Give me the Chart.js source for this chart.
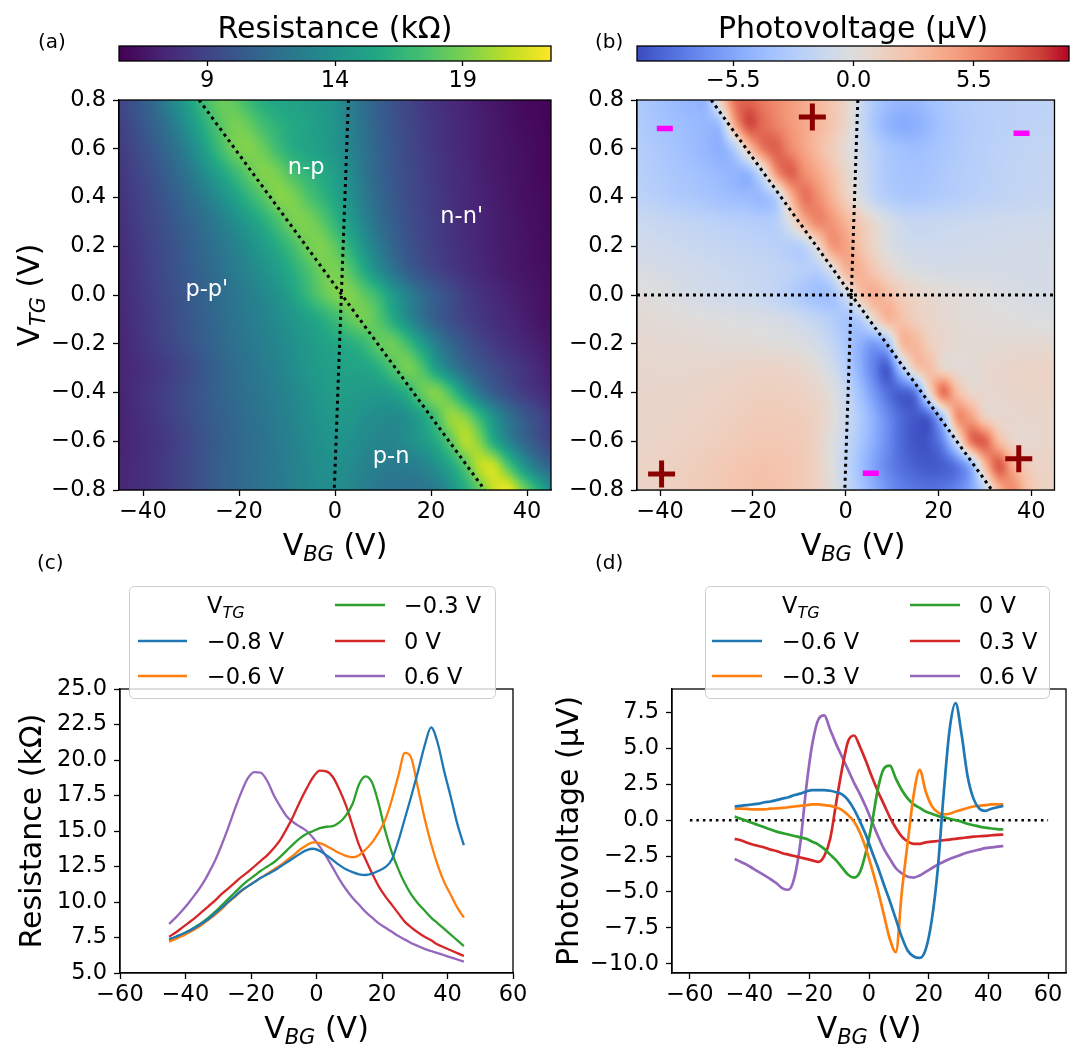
<!DOCTYPE html>
<html>
<head>
<meta charset="utf-8">
<script src="https://cdn.jsdelivr.net/npm/chart.js@4.4.0/dist/chart.umd.min.js"></script>
<style>
  html, body { margin: 0; padding: 0; background: #fff; }
  #fig { position: relative; width: 1073px; height: 1044px; }
  #fig canvas { position: absolute; left: 0; top: 0; }
</style>
</head>
<body>
<div id="fig">
  <canvas id="cbRes" width="1073" height="1044"></canvas>
  <canvas id="mapRes" width="1073" height="1044"></canvas>
  <canvas id="cbPv" width="1073" height="1044"></canvas>
  <canvas id="mapPv" width="1073" height="1044"></canvas>
  <canvas id="cutRes" width="1073" height="1044"></canvas>
  <canvas id="cutPv" width="1073" height="1044"></canvas>
</div>
<script>
// ---- gate sweep grids used by both maps ----
const vbgGrid = [-45,-42,-39,-36,-33,-30,-27,-24,-21,-18,-15,-12,-9,-6,-3,0,3,6,9,12,15,18,21,24,27,30,33,36,39,42,45];
const vtgGrid = [0.8,0.7,0.6,0.5,0.4,0.3,0.2,0.1,0,-0.1,-0.2,-0.3,-0.4,-0.5,-0.6,-0.7,-0.8];

// resistance map (kOhm), one row per top gate voltage, top row = 0.8 V
const resistanceMap = [
  [9.0,9.9,10.9,12.2,13.8,15.5,17.3,18.5,18.2,17.0,16.0,15.5,15.3,15.0,14.6,14.0,12.8,11.6,10.6,9.8,9.1,8.5,8.0,7.6,7.2,6.9,6.6,6.3,6.0,5.8,5.6],
  [8.7,9.5,10.4,11.5,12.9,14.5,16.3,17.9,18.9,18.4,17.2,16.3,15.7,15.3,14.8,14.2,13.0,11.8,10.7,9.9,9.2,8.6,8.1,7.7,7.3,7.0,6.7,6.4,6.1,5.9,5.7],
  [8.45,9.15,9.95,10.85,12.0,13.4,15.2,17.1,18.7,19.2,18.5,17.1,16.0,15.45,15.0,14.2,13.2,12.0,10.9,10.05,9.3,8.7,8.2,7.75,7.35,7.0,6.7,6.5,6.25,6.0,5.8],
  [8.2,8.8,9.5,10.3,11.3,12.4,13.8,15.3,16.8,18.2,19.2,18.9,17.6,16.6,15.8,14.9,13.6,12.2,11.0,10.1,9.4,8.8,8.3,7.8,7.5,7.1,6.8,6.5,6.3,6.0,5.8],
  [8.0,8.6,9.2,9.9,10.7,11.6,12.6,13.8,15.1,16.5,17.9,19.2,19.1,17.9,16.7,15.5,14.1,12.6,11.3,10.3,9.5,8.9,8.4,7.9,7.5,7.2,6.9,6.6,6.3,6.1,5.9],
  [7.8,8.4,9.0,9.6,10.3,11.0,11.8,12.7,13.7,14.8,16.0,17.4,18.8,19.1,18.2,16.6,14.9,13.2,11.7,10.6,9.7,9.0,8.5,8.0,7.6,7.3,7.0,6.7,6.4,6.2,5.9],
  [7.7,8.2,8.8,9.4,10.0,10.7,11.4,12.1,12.9,13.8,14.8,15.9,17.2,18.6,19.1,18.2,16.3,14.3,12.5,11.1,10.0,9.2,8.6,8.1,7.7,7.3,7.0,6.7,6.5,6.2,6.0],
  [7.6,8.1,8.7,9.3,9.9,10.5,11.1,11.8,12.5,13.2,14.0,14.9,16.0,17.3,18.6,19.0,17.9,15.9,13.8,12.1,10.7,9.7,9.0,8.4,7.9,7.5,7.1,6.8,6.5,6.3,6.1],
  [7.55,8.0,8.55,9.1,9.7,10.3,10.95,11.55,12.1,12.7,13.3,14.1,15.2,16.6,18.0,19.0,19.2,18.2,16.8,14.7,13.0,11.55,10.4,9.5,8.6,8.0,7.55,7.15,6.8,6.5,6.2],
  [7.4,7.9,8.4,9.0,9.6,10.2,10.8,11.4,12.0,12.5,13.0,13.6,14.3,15.0,15.9,16.9,18.2,18.8,17.9,15.9,13.8,12.0,10.6,9.6,8.9,8.3,7.8,7.4,7.0,6.6,6.3],
  [7.3,7.8,8.3,8.8,9.4,10.0,10.6,11.2,11.8,12.3,12.8,13.3,13.9,14.5,15.1,15.6,16.0,16.8,18.2,18.6,17.2,15.0,12.8,11.2,10.0,9.1,8.4,7.9,7.4,7.0,6.6],
  [7.3,7.6,7.95,8.4,8.9,9.5,10.2,10.9,11.5,12.0,12.5,13.0,13.65,14.35,14.8,15.1,15.3,15.4,16.1,17.6,18.85,17.7,15.0,12.9,11.3,10.2,9.4,8.7,8.1,7.5,6.9],
  [7.2,7.7,8.1,8.6,9.1,9.7,10.3,10.9,11.4,11.9,12.3,12.8,13.3,13.9,14.5,14.9,14.9,14.7,14.6,15.0,16.2,18.3,19.2,17.5,14.6,12.2,10.6,9.5,8.6,8.0,7.4],
  [7.2,7.6,8.0,8.5,9.0,9.6,10.2,10.7,11.2,11.7,12.1,12.6,13.1,13.7,14.2,14.5,14.4,14.0,13.7,13.6,14.0,15.3,17.4,19.7,19.3,16.8,14.1,12.0,10.5,9.4,8.4],
  [7.2,7.5,7.85,8.25,8.75,9.3,9.95,10.55,11.1,11.55,12.0,12.45,12.95,13.5,14.0,14.2,13.95,13.55,13.25,13.2,13.7,14.55,15.8,18.0,20.4,19.3,15.9,13.3,11.4,10.0,8.9],
  [7.3,7.6,7.95,8.35,8.85,9.4,10.0,10.6,11.1,11.6,11.95,12.35,12.85,13.3,13.8,13.9,13.6,13.1,12.8,12.5,12.6,13.0,14.0,15.5,17.8,20.6,20.9,17.8,14.6,12.3,10.9],
  [7.4,7.65,7.95,8.35,8.8,9.4,10.0,10.6,11.1,11.55,11.95,12.35,12.8,13.25,13.65,13.7,13.3,12.8,12.3,12.0,11.9,12.15,12.5,14.0,15.9,18.3,21.0,21.9,19.2,16.4,14.0]
];

// photovoltage map (uV), same grid
const photovoltageMap = [
  [-3.0,-3.5,-3.9,-4.3,-4.5,-4.2,1.5,6.5,7.2,6.4,5.6,4.8,4.0,3.2,2.2,1.0,-1.2,-3.0,-4.0,-4.4,-4.3,-3.8,-3.3,-2.9,-2.7,-2.5,-2.4,-2.3,-2.2,-2.2,-2.1],
  [-2.9,-3.3,-3.7,-4.0,-4.2,-4.4,-3.5,4.0,8.0,7.0,6.0,5.0,4.2,3.3,2.3,1.0,-1.3,-3.3,-4.6,-5.2,-5.0,-4.3,-3.6,-3.1,-2.8,-2.6,-2.4,-2.3,-2.2,-2.1,-2.0],
  [-2.7,-3.0,-3.35,-3.7,-4.1,-4.5,-4.85,-2.8,2.3,6.15,7.3,5.8,4.4,3.05,1.8,0.4,-1.1,-2.35,-3.35,-3.8,-4.0,-3.7,-3.35,-3.0,-2.7,-2.5,-2.25,-2.1,-1.95,-1.87,-1.8],
  [-2.5,-2.8,-3.1,-3.4,-3.7,-4.0,-4.3,-4.6,-4.4,-1.0,5.0,7.3,5.6,4.2,2.6,1.0,-0.8,-2.2,-3.1,-3.5,-3.6,-3.4,-3.1,-2.8,-2.6,-2.4,-2.2,-2.0,-1.9,-1.8,-1.7],
  [-2.2,-2.4,-2.7,-3.0,-3.2,-3.5,-3.8,-4.0,-4.2,-4.2,-2.5,3.0,6.5,5.5,3.6,1.6,-0.3,-1.8,-2.7,-3.1,-3.2,-3.0,-2.8,-2.6,-2.4,-2.2,-2.0,-1.85,-1.75,-1.65,-1.55],
  [-1.3,-1.48,-1.7,-1.85,-2.05,-2.2,-2.4,-2.55,-2.7,-2.85,-2.5,-0.05,3.6,5.7,5.1,3.5,2.0,0.65,-0.55,-1.35,-1.65,-1.62,-1.5,-1.42,-1.35,-1.28,-1.2,-1.15,-1.1,-1.04,-1.0],
  [-0.9,-1.0,-1.15,-1.3,-1.45,-1.6,-1.75,-1.9,-2.05,-2.2,-2.4,-2.6,-2.2,0.8,4.8,4.5,2.6,1.1,-0.1,-0.8,-1.1,-1.15,-1.1,-1.05,-1.0,-0.95,-0.9,-0.85,-0.8,-0.8,-0.75],
  [-0.4,-0.5,-0.65,-0.8,-0.95,-1.1,-1.25,-1.4,-1.55,-1.7,-1.9,-2.2,-2.6,-2.6,-0.5,3.3,3.6,2.2,1.0,0.2,-0.3,-0.5,-0.6,-0.6,-0.6,-0.6,-0.65,-0.65,-0.7,-0.7,-0.7],
  [0.25,0.05,-0.2,-0.42,-0.65,-0.85,-1.0,-1.15,-1.3,-1.6,-2.0,-2.6,-3.3,-3.9,-3.6,-1.2,2.2,3.8,2.9,1.8,1.1,0.72,0.45,0.25,0.1,-0.05,-0.25,-0.4,-0.52,-0.6,-0.65],
  [0.5,0.4,0.3,0.2,0.1,0.0,-0.1,-0.2,-0.3,-0.45,-0.65,-0.95,-1.4,-2.0,-2.7,-3.4,-2.8,0.5,3.2,2.6,1.6,1.0,0.65,0.45,0.3,0.2,0.1,0.0,-0.1,-0.2,-0.25],
  [0.65,0.6,0.55,0.55,0.5,0.45,0.4,0.35,0.3,0.25,0.15,0.0,-0.3,-0.9,-1.9,-3.2,-4.8,-6.0,-4.0,2.8,3.2,1.6,0.9,0.6,0.45,0.45,0.5,0.55,0.55,0.55,0.55],
  [0.8,0.79,0.75,0.75,0.8,0.84,0.9,0.97,1.05,1.1,1.05,0.95,0.7,0.15,-0.9,-2.6,-4.9,-7.4,-9.0,-3.2,1.8,2.8,1.0,0.45,0.45,0.65,0.85,0.97,1.05,1.1,1.1],
  [0.85,0.88,0.9,0.92,0.97,1.05,1.15,1.25,1.4,1.5,1.5,1.4,1.2,0.8,0.0,-1.6,-3.8,-6.2,-8.3,-9.0,-7.5,0.5,6.5,3.0,1.0,0.8,0.85,0.95,1.0,1.05,1.05],
  [0.9,0.95,1.0,1.05,1.15,1.25,1.4,1.55,1.75,1.85,1.85,1.75,1.6,1.2,0.3,-1.3,-3.0,-5.0,-7.0,-8.6,-9.3,-8.5,-3.0,5.0,4.5,1.5,0.8,0.8,0.85,0.9,1.0],
  [0.95,1.02,1.1,1.2,1.3,1.45,1.6,1.8,2.0,2.1,2.1,2.0,1.8,1.1,-0.1,-1.6,-3.3,-5.1,-6.9,-8.6,-9.5,-9.3,-7.0,-0.9,6.3,7.2,3.1,1.15,0.65,0.85,1.0],
  [1.1,1.2,1.3,1.45,1.6,1.8,2.0,2.2,2.4,2.5,2.4,2.2,1.9,1.2,0.0,-1.8,-3.8,-5.6,-7.2,-8.3,-9.0,-9.3,-9.0,-7.8,-4.5,3.0,7.5,4.0,1.8,1.2,1.1],
  [1.1,1.2,1.35,1.5,1.7,1.9,2.1,2.3,2.5,2.6,2.5,2.3,1.9,1.3,0.2,-1.5,-3.3,-5.0,-6.5,-7.5,-8.0,-8.2,-8.0,-7.2,-5.5,-2.0,3.5,5.5,2.8,1.5,1.2]
];

// dotted guide lines (charge neutrality) and markers, [V_BG, V_TG]
const diagLineRes = [[-28.3, 0.8], [31.2, -0.8]];
const vertLineRes = [[2.8, 0.8], [-0.15, -0.8]];
const diagLinePv = [[-29.0, 0.8], [31.5, -0.8]];
const vertLinePv = [[2.6, 0.8], [-0.2, -0.8]];
const zeroLinePv = [[-45, 0], [45, 0]];
const plusMarks = [[-7.2, 0.73], [-39.7, -0.734], [37.3, -0.672]];
const minusMarks = [[-39.0, 0.683], [37.9, 0.664], [5.4, -0.731]];
const regionNames = ['n-p', "n-n'", "p-p'", 'p-n'];
const regionVbg = [-6.0, 26.4, -26.7, 11.7];
const regionVtg = [0.52, 0.32, 0.02, -0.665];

// line cuts vs back gate
const vbgCuts = [-45,-43,-41,-39,-37,-35,-33,-31,-29,-27,-25,-23,-21,-19,-17,-15,-13,-11,-9,-7,-5,-3,-1,1,3,5,7,9,11,13,15,17,19,21,23,25,27,29,31,33,35,37,39,41,43,45];
const resCutM08 = [7.4,7.55,7.75,7.95,8.2,8.5,8.8,9.2,9.6,10.0,10.4,10.8,11.1,11.4,11.7,11.95,12.2,12.5,12.8,13.1,13.4,13.65,13.75,13.6,13.3,12.95,12.6,12.3,12.1,11.95,11.9,12.0,12.2,12.45,13.0,14.3,15.9,17.5,19.2,21.0,22.3,21.2,19.2,17.4,15.5,14.0];
const resCutM06 = [7.2,7.4,7.6,7.85,8.1,8.4,8.75,9.1,9.5,9.95,10.35,10.75,11.1,11.4,11.7,12.0,12.3,12.6,12.95,13.3,13.7,14.0,14.2,14.15,13.95,13.7,13.45,13.25,13.15,13.3,13.7,14.2,14.9,15.8,17.2,18.9,20.5,20.1,18.0,15.9,14.1,12.6,11.4,10.5,9.6,8.9];
const resCutM03 = [7.3,7.5,7.7,7.95,8.25,8.55,8.9,9.3,9.75,10.2,10.65,11.1,11.5,11.85,12.2,12.5,12.8,13.2,13.65,14.1,14.5,14.8,15.0,15.2,15.3,15.35,15.6,16.1,16.9,18.3,18.85,18.4,16.9,15.0,13.5,12.3,11.3,10.5,9.9,9.4,8.9,8.5,8.1,7.7,7.3,6.9];
const resCut0 = [7.55,7.85,8.2,8.55,8.9,9.3,9.7,10.1,10.55,10.95,11.35,11.75,12.1,12.5,12.9,13.3,13.8,14.4,15.2,16.1,17.1,18.0,18.8,19.25,19.2,18.8,17.9,16.8,15.4,14.0,13.0,12.0,11.1,10.4,9.8,9.2,8.6,8.2,7.85,7.55,7.3,7.0,6.8,6.6,6.4,6.2];
const resCutP06 = [8.45,8.9,9.4,9.95,10.55,11.2,12.0,12.9,14.0,15.2,16.5,17.7,18.7,19.15,19.1,18.5,17.5,16.7,16.0,15.6,15.3,15.0,14.5,13.9,13.2,12.4,11.6,10.9,10.3,9.8,9.3,8.9,8.5,8.2,7.9,7.6,7.35,7.1,6.9,6.7,6.55,6.4,6.25,6.1,5.95,5.8];
const pvCutM06 = [0.95,1.0,1.05,1.1,1.15,1.25,1.3,1.4,1.5,1.6,1.75,1.85,2.0,2.1,2.1,2.1,2.05,1.95,1.8,1.4,0.75,-0.1,-1.05,-2.2,-3.3,-4.5,-5.65,-6.9,-8.15,-9.1,-9.5,-9.6,-9.0,-7.0,-3.5,1.8,6.3,8.15,6.0,3.1,1.5,0.8,0.65,0.8,0.9,1.0];
const pvCutM03 = [0.8,0.8,0.78,0.75,0.75,0.75,0.8,0.82,0.85,0.9,0.95,1.0,1.05,1.1,1.1,1.05,1.0,0.9,0.7,0.35,-0.1,-0.9,-2.0,-3.4,-4.9,-6.6,-8.3,-9.2,-5.0,-1.5,1.8,3.5,2.0,1.0,0.55,0.4,0.45,0.6,0.72,0.85,0.95,1.0,1.05,1.1,1.1,1.1];
const pvCut0 = [0.25,0.1,-0.05,-0.2,-0.35,-0.5,-0.65,-0.8,-0.9,-1.0,-1.1,-1.2,-1.3,-1.5,-1.7,-2.0,-2.4,-2.8,-3.3,-3.8,-4.0,-3.6,-2.2,-0.2,2.2,3.6,3.8,2.9,2.1,1.5,1.1,0.85,0.6,0.45,0.3,0.2,0.1,0.0,-0.1,-0.25,-0.35,-0.45,-0.52,-0.58,-0.62,-0.65];
const pvCutP03 = [-1.3,-1.4,-1.55,-1.7,-1.8,-1.9,-2.05,-2.15,-2.3,-2.4,-2.5,-2.6,-2.7,-2.8,-2.9,-2.5,-1.3,1.2,3.6,5.5,5.9,5.1,4.1,3.0,2.0,1.1,0.2,-0.55,-1.15,-1.5,-1.65,-1.65,-1.55,-1.5,-1.45,-1.4,-1.35,-1.3,-1.25,-1.2,-1.15,-1.12,-1.1,-1.05,-1.02,-1.0];
const pvCutP06 = [-2.7,-2.9,-3.1,-3.35,-3.6,-3.85,-4.1,-4.4,-4.75,-4.85,-4.0,-1.6,2.3,5.3,7.0,7.3,6.3,5.3,4.4,3.5,2.6,1.8,0.9,-0.1,-1.1,-2.0,-2.7,-3.35,-3.7,-3.95,-4.0,-3.85,-3.6,-3.35,-3.1,-2.9,-2.7,-2.55,-2.4,-2.25,-2.15,-2.05,-1.95,-1.9,-1.85,-1.8];
const zeroLineCut = [[-60, 0], [60, 0]];

// tick values
const mapXTicks = [-40, -20, 0, 20, 40];
const mapYTicks = [-0.8, -0.6, -0.4, -0.2, 0, 0.2, 0.4, 0.6, 0.8];
const cbResTicks = [9, 14, 19];
const cbPvTicks = [-5.5, 0, 5.5];
const cutXTicks = [-60, -40, -20, 0, 20, 40, 60];
const resTicks = [5, 7.5, 10, 12.5, 15, 17.5, 20, 22.5, 25];
const pvTicks = [-10, -7.5, -5, -2.5, 0, 2.5, 5, 7.5];

// colormaps
const viridis = [[68,1,84],[72,36,117],[65,68,135],[53,95,141],[42,120,142],[33,145,140],[34,168,132],[68,191,112],[122,209,81],[189,223,38],[253,231,37]];
const coolwarm = [[59,76,192],[77,104,215],[98,130,234],[119,154,247],[141,176,254],[163,194,255],[184,208,249],[204,217,238],[221,221,221],[236,211,197],[245,196,173],[247,177,148],[244,154,123],[236,127,99],[222,96,77],[203,62,56],[180,4,38]];

const W = 1073, H = 1044;
const FONT = "'DejaVu Sans'";
Chart.defaults.font.family = FONT;
Chart.defaults.color = '#000';

const tidy = v => (Math.abs(v) < 1e-9 ? 0 : v);
const fmt1 = v => tidy(v).toFixed(1).replace('-', '\u2212');
const fmt0 = v => String(tidy(v)).replace('-', '\u2212');

function cmapColor(stops, t) {
  t = Math.min(1, Math.max(0, t));
  const s = t * (stops.length - 1);
  const i = Math.min(stops.length - 2, Math.floor(s));
  const f = s - i, a = stops[i], b = stops[i + 1];
  return [a[0] + (b[0] - a[0]) * f, a[1] + (b[1] - a[1]) * f, a[2] + (b[2] - a[2]) * f];
}

// Catmull-Rom smoothing between grid samples
function cr(p0, p1, p2, p3, t) {
  return p1 + 0.5 * t * (p2 - p0 + t * (2 * p0 - 5 * p1 + 4 * p2 - p3 + t * (3 * (p1 - p2) + p3 - p0)));
}
function sampleGrid(g, fx, fy) {
  const ny = g.length, nx = g[0].length;
  fx = Math.max(0, Math.min(nx - 1, fx));
  fy = Math.max(0, Math.min(ny - 1, fy));
  const ix = Math.min(nx - 2, Math.floor(fx)), iy = Math.min(ny - 2, Math.floor(fy));
  const tx = fx - ix, ty = fy - iy;
  const at = (r, c) => g[Math.max(0, Math.min(ny - 1, r))][Math.max(0, Math.min(nx - 1, c))];
  const row = r => cr(at(r, ix - 1), at(r, ix), at(r, ix + 1), at(r, ix + 2), tx);
  return cr(row(iy - 1), row(iy), row(iy + 1), row(iy + 2), ty);
}

function paintHeat(chart, h) {
  const { ctx, chartArea: a, scales: { x, y } } = chart;
  const w = Math.round(a.right - a.left), ht = Math.round(a.bottom - a.top);
  const img = ctx.createImageData(w, ht);
  const dx = h.cols[1] - h.cols[0], dy = h.rows[1] - h.rows[0];
  for (let j = 0; j < ht; j++) {
    const fy = (y.getValueForPixel(a.top + j + 0.5) - h.rows[0]) / dy;
    for (let i = 0; i < w; i++) {
      const fx = (x.getValueForPixel(a.left + i + 0.5) - h.cols[0]) / dx;
      const v = sampleGrid(h.values, fx, fy);
      const c = cmapColor(h.cmap, (v - h.vmin) / (h.vmax - h.vmin));
      const k = (j * w + i) * 4;
      img.data[k] = c[0]; img.data[k + 1] = c[1]; img.data[k + 2] = c[2]; img.data[k + 3] = 255;
    }
  }
  ctx.putImageData(img, Math.round(a.left), Math.round(a.top));
}

function paintBar(chart, stops) {
  const { ctx, chartArea: a, scales: { x } } = chart;
  for (let px = Math.round(a.left); px < a.right; px++) {
    const c = cmapColor(stops, (x.getValueForPixel(px + 0.5) - x.min) / (x.max - x.min));
    ctx.fillStyle = `rgb(${c[0] | 0},${c[1] | 0},${c[2] | 0})`;
    ctx.fillRect(px, a.top, 1, a.bottom - a.top);
  }
}

// text runs with optional italic / subscript offset: [text, size, italic, dy]
function drawRich(ctx, { parts, x, y, rot = 0, align = 'center', color = '#000' }) {
  ctx.save();
  ctx.translate(x, y);
  ctx.rotate(rot);
  ctx.textBaseline = 'alphabetic';
  ctx.textAlign = 'left';
  ctx.fillStyle = color;
  const widths = parts.map(([t, size, it]) => {
    ctx.font = `${it ? 'italic ' : ''}${size}px ${FONT}`;
    return ctx.measureText(t).width;
  });
  const total = widths.reduce((s, v) => s + v, 0);
  let cx = align === 'center' ? -total / 2 : align === 'right' ? -total : 0;
  parts.forEach(([t, size, it, dy = 0], i) => {
    ctx.font = `${it ? 'italic ' : ''}${size}px ${FONT}`;
    ctx.fillText(t, cx, dy);
    cx += widths[i];
  });
  ctx.restore();
}

function drawLegend(chart, L) {
  const ctx = chart.ctx;
  const [x0, y0, x1, y1] = L.box;
  ctx.save();
  ctx.beginPath();
  ctx.roundRect(x0 + 0.5, y0 + 0.5, x1 - x0, y1 - y0, 5);
  ctx.fillStyle = 'rgba(255,255,255,0.8)';
  ctx.fill();
  ctx.strokeStyle = '#cccccc';
  ctx.lineWidth = 1;
  ctx.stroke();
  drawRich(ctx, { parts: [['V', 22.5], ['TG', 16, true, 5]], x: L.textX[0], y: L.rowY[0] + 8, align: 'left' });
  L.slots.forEach(([col, row], i) => {
    const ds = chart.data.datasets[i];
    ctx.strokeStyle = ds.borderColor;
    ctx.lineWidth = 2.3;
    ctx.beginPath();
    ctx.moveTo(L.handle[col][0], L.rowY[row]);
    ctx.lineTo(L.handle[col][1], L.rowY[row]);
    ctx.stroke();
    drawRich(ctx, { parts: [[ds.label, 22.5]], x: L.textX[col], y: L.rowY[row] + 8, align: 'left' });
  });
  ctx.restore();
}

function makeDecor(cfg) {
  return {
    id: 'decor',
    beforeDatasetsDraw(chart) {
      if (cfg.heat) paintHeat(chart, cfg.heat);
      if (cfg.bar) paintBar(chart, cfg.bar);
    },
    afterDatasetsDraw(chart) {
      const { ctx, scales: { x, y } } = chart;
      (cfg.notes || []).forEach(n => {
        ctx.save();
        ctx.font = `22.5px ${FONT}`;
        ctx.fillStyle = '#fff';
        ctx.textAlign = 'center';
        ctx.textBaseline = 'middle';
        ctx.fillText(n.text, x.getPixelForValue(n.x), y.getPixelForValue(n.y));
        ctx.restore();
      });
    },
    afterDraw(chart) {
      const { ctx, chartArea: a } = chart;
      ctx.save();
      ctx.strokeStyle = '#000';
      ctx.lineWidth = 1.3;
      ctx.strokeRect(a.left, a.top, a.right - a.left, a.bottom - a.top);
      ctx.restore();
      if (cfg.legend) drawLegend(chart, cfg.legend);
      (cfg.texts || []).forEach(t => drawRich(ctx, t));
    }
  };
}

function axis(pos, min, max, ticks, fmt, size, tickLen = 6, pad) {
  return {
    type: 'linear', position: pos, min, max,
    afterBuildTicks: s => { s.ticks = ticks.map(v => ({ value: v })); },
    afterFit: s => { if (pos === 'bottom') s.height = size; else s.width = size; },
    grid: { drawOnChartArea: false, tickLength: tickLen, tickWidth: 1.3, tickColor: '#000' },
    border: { display: true, color: '#000', width: 1.3 },
    ticks: { font: { size: 22.5 }, color: '#000', padding: pad !== undefined ? pad : (pos === 'bottom' ? 3 : 7),
             autoSkip: false, maxRotation: 0, callback: fmt }
  };
}

function baseOptions(area, yw, xh, scales) {
  return {
    responsive: false, devicePixelRatio: 1, animation: false, events: [],
    layout: { padding: { left: area[0] - yw, top: area[1], right: W - area[2], bottom: H - area[3] - xh } },
    scales,
    plugins: { legend: { display: false }, tooltip: { enabled: false } }
  };
}

const pts = arr => arr.map(([x, y]) => ({ x, y }));
const dotted = (arr, width, dash) => ({
  data: pts(arr), showLine: true, borderColor: '#000', borderWidth: width, borderDash: dash,
  pointRadius: 0, borderCapStyle: 'butt', fill: false
});
const cutSet = (label, ys, color, width = 2.3) => ({
  label, data: vbgCuts.map((x, i) => ({ x, y: ys[i] })), showLine: true, borderColor: color,
  borderWidth: width, pointRadius: 0, cubicInterpolationMode: 'monotone', fill: false
});

const areaCbRes = [119, 46, 551, 61], areaRes = [119, 100, 551, 490];
const areaCbPv = [637, 46, 1069, 61], areaPv = [637, 100, 1069, 490];
const areaCutRes = [120, 689, 513, 973], areaCutPv = [672, 689, 1066, 973];
const hidden = { display: false, min: 0, max: 1 };
const xTitle = (cx, by) => ({ parts: [['V', 30], ['BG', 21, true, 6], [' (V)', 30]], x: cx, y: by });

// colorbars
new Chart(document.getElementById('cbRes'), {
  type: 'scatter', data: { datasets: [] },
  options: baseOptions(areaCbRes, 0, 40, {
    x: Object.assign(axis('bottom', 5.55, 22.45, cbResTicks, fmt0, 40, 5, 2), { border: { display: false } }),
    y: hidden
  }),
  plugins: [makeDecor({ bar: viridis, texts: [
    { parts: [['Resistance (k\u03A9)', 30]], x: 335, y: 38 },
    { parts: [['(a)', 20]], x: 38, y: 48, align: 'left' }
  ] })]
});
new Chart(document.getElementById('cbPv'), {
  type: 'scatter', data: { datasets: [] },
  options: baseOptions(areaCbPv, 0, 40, {
    x: Object.assign(axis('bottom', -9.9, 9.85, cbPvTicks, fmt1, 40, 5, 2), { border: { display: false } }),
    y: hidden
  }),
  plugins: [makeDecor({ bar: coolwarm, texts: [
    { parts: [['Photovoltage (\u03BCV)', 30]], x: 853, y: 38 },
    { parts: [['(b)', 20]], x: 595, y: 48, align: 'left' }
  ] })]
});

// resistance map
new Chart(document.getElementById('mapRes'), {
  type: 'scatter',
  data: { datasets: [dotted(diagLineRes, 3, [3, 4]), dotted(vertLineRes, 3, [3, 4])] },
  options: baseOptions(areaRes, 100, 45, {
    x: axis('bottom', -45, 45, mapXTicks, fmt0, 45),
    y: axis('left', -0.8, 0.8, mapYTicks, fmt1, 100)
  }),
  plugins: [makeDecor({
    heat: { cols: vbgGrid, rows: vtgGrid, values: resistanceMap, cmap: viridis, vmin: 5.55, vmax: 22.45 },
    notes: regionNames.map((t, i) => ({ text: t, x: regionVbg[i], y: regionVtg[i] })),
    texts: [
      xTitle(335, 555),
      { parts: [['V', 30], ['TG', 21, true, 6], [' (V)', 30]], x: 39, y: 295, rot: -Math.PI / 2 }
    ]
  })]
});

// photovoltage map
new Chart(document.getElementById('mapPv'), {
  type: 'scatter',
  data: { datasets: [
    dotted(diagLinePv, 3, [3, 4]), dotted(vertLinePv, 3, [3, 4]), dotted(zeroLinePv, 3, [3, 4]),
    { data: pts(plusMarks), pointStyle: 'cross', pointRadius: 13.5, borderWidth: 5, borderColor: '#8b0000', showLine: false },
    { data: pts(minusMarks), pointStyle: 'line', pointRadius: 8, borderWidth: 5.5, borderColor: '#ff00ff', showLine: false }
  ] },
  options: baseOptions(areaPv, 100, 45, {
    x: axis('bottom', -45, 45, mapXTicks, fmt0, 45),
    y: axis('left', -0.8, 0.8, mapYTicks, fmt1, 100)
  }),
  plugins: [makeDecor({
    heat: { cols: vbgGrid, rows: vtgGrid, values: photovoltageMap, cmap: coolwarm, vmin: -9.9, vmax: 9.85 },
    texts: [xTitle(853, 555)]
  })]
});

// resistance line cuts
new Chart(document.getElementById('cutRes'), {
  type: 'scatter',
  data: { datasets: [
    cutSet('\u22120.8 V', resCutM08, '#1f77b4'),
    cutSet('\u22120.6 V', resCutM06, '#ff7f0e'),
    cutSet('\u22120.3 V', resCutM03, '#2ca02c'),
    cutSet('0 V', resCut0, '#d62728'),
    cutSet('0.6 V', resCutP06, '#9467bd')
  ] },
  options: baseOptions(areaCutRes, 100, 45, {
    x: axis('bottom', -60, 60, cutXTicks, fmt0, 45),
    y: axis('left', 5, 25, resTicks, fmt1, 100)
  }),
  plugins: [makeDecor({
    legend: { box: [129, 586, 495, 698], handle: [[138, 187], [335, 385]], textX: [207, 404], rowY: [605, 641, 676],
              slots: [[0, 1], [0, 2], [1, 0], [1, 1], [1, 2]] },
    texts: [
      xTitle(316.5, 1038),
      { parts: [['Resistance (k\u03A9)', 30]], x: 41, y: 831, rot: -Math.PI / 2 },
      { parts: [['(c)', 20]], x: 37, y: 569, align: 'left' }
    ]
  })]
});

// photovoltage line cuts (measured traces are a little noisier, drawn slightly heavier)
new Chart(document.getElementById('cutPv'), {
  type: 'scatter',
  data: { datasets: [
    cutSet('\u22120.6 V', pvCutM06, '#1f77b4', 2.7),
    cutSet('\u22120.3 V', pvCutM03, '#ff7f0e', 2.7),
    cutSet('0 V', pvCut0, '#2ca02c', 2.7),
    cutSet('0.3 V', pvCutP03, '#d62728', 2.7),
    cutSet('0.6 V', pvCutP06, '#9467bd', 2.7),
    dotted(zeroLineCut, 2.5, [2.5, 4])
  ] },
  options: baseOptions(areaCutPv, 100, 45, {
    x: axis('bottom', -66, 66, cutXTicks, fmt0, 45),
    y: axis('left', -10.65, 9.14, pvTicks, fmt1, 100)
  }),
  plugins: [makeDecor({
    legend: { box: [705, 586, 1049, 698], handle: [[712, 762], [910, 960]], textX: [782, 979], rowY: [605, 641, 676],
              slots: [[0, 1], [0, 2], [1, 0], [1, 1], [1, 2]] },
    texts: [
      xTitle(869, 1038),
      { parts: [['Photovoltage (\u03BCV)', 30]], x: 578, y: 831, rot: -Math.PI / 2 },
      { parts: [['(d)', 20]], x: 595, y: 569, align: 'left' }
    ]
  })]
});
</script>
</body>
</html>
